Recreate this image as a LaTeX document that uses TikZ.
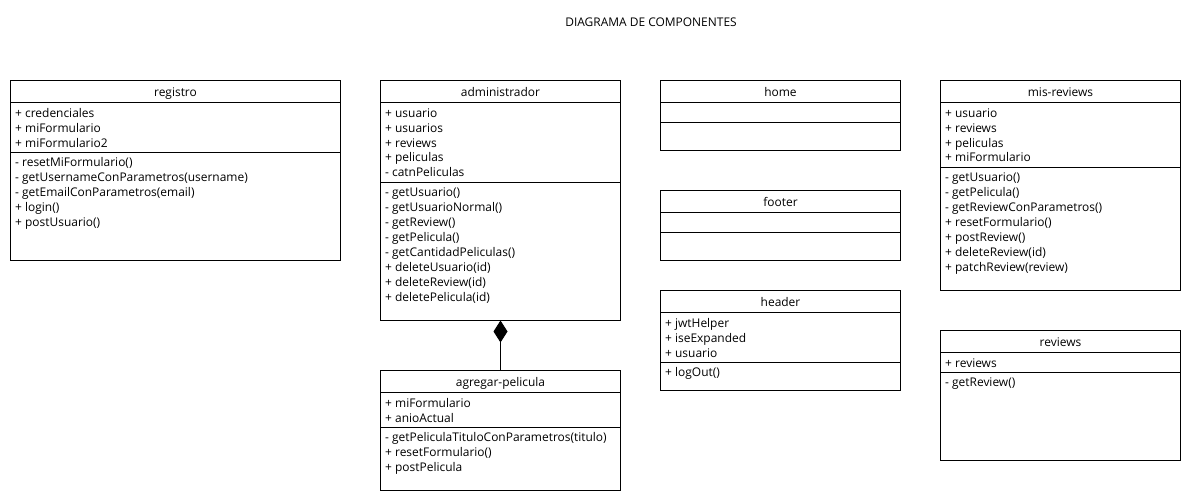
\documentclass[tikz,border=0pt]{standalone}
\usepackage{fontspec}
\setmainfont{Open Sans}
\usetikzlibrary{arrows.meta,calc}
\tikzset{
  x=1bp, y=-1bp,
  box/.style={draw, line width=1bp, anchor=north west, inner sep=0pt, outer sep=0pt},
  sepline/.style={line width=1bp},
  ttl/.style={anchor=base, inner sep=0pt, font=\fontsize{12}{15}\selectfont},
  txt/.style={anchor=north west, inner sep=0pt, align=left, font=\fontsize{12}{15}\selectfont},
  compo/.style={line width=1bp, -{Diamond[length=22bp,width=14bp]}},
}
\newcommand\umlbox[7]{%
  \node[box, minimum width=#4bp, minimum height=#5bp] (#1) at (#2.5,#3.5) {};
  \node[ttl] (#1-t) at ($(#1.north)+(0,16.5)$) {#6};
  \draw[sepline] ([yshift=-22bp]#1.north west) -- ([yshift=-22bp]#1.north east);
  \draw[sepline] ([yshift=-#7bp]#1.north west) -- ([yshift=-#7bp]#1.north east);
}
\newcommand\fl{\rule{0pt}{11pt}}
\begin{document}
\begin{tikzpicture}
\useasboundingbox (0,0) rectangle (1190,500);
\node[ttl] (title) at (651,26.5) {DIAGRAMA DE COMPONENTES};

\umlbox{reg}{10}{80}{330}{180}{registro}{72}
\node[txt] (reg-a) at ($(reg.north west)+(4.5,25.5)$) {\fl+ credenciales\\+ miFormulario\\+ miFormulario2};
\node[txt] (reg-m) at ($(reg.north west)+(4.5,75)$) {\fl- resetMiFormulario()\\- getUsernameConParametros(username)\\- getEmailConParametros(email)\\+ login()\\+ postUsuario()};

\umlbox{adm}{380}{80}{240}{240}{administrador}{102}
\node[txt] (adm-a) at ($(adm.north west)+(4.5,25.5)$) {\fl+ usuario\\+ usuarios\\+ reviews\\+ peliculas\\- catnPeliculas};
\node[txt] (adm-m) at ($(adm.north west)+(4.5,105)$) {\fl- getUsuario()\\- getUsuarioNormal()\\- getReview()\\- getPelicula()\\- getCantidadPeliculas()\\+ deleteUsuario(id)\\+ deleteReview(id)\\+ deletePelicula(id)};

\umlbox{agr}{380}{370}{240}{120}{agregar-pelicula}{57}
\node[txt] (agr-a) at ($(agr.north west)+(4.5,25.5)$) {\fl+ miFormulario\\+ anioActual};
\node[txt] (agr-m) at ($(agr.north west)+(4.5,60)$) {\fl- getPeliculaTituloConParametros(titulo)\\+ resetFormulario()\\+ postPelicula};

\umlbox{home}{660}{80}{240}{70}{home}{42}
\umlbox{foot}{660}{190}{240}{70}{footer}{42}

\umlbox{head}{660}{290}{240}{100}{header}{72}
\node[txt] (head-a) at ($(head.north west)+(4.5,25.5)$) {\fl+ jwtHelper\\+ iseExpanded\\+ usuario};
\node[txt] (head-m) at ($(head.north west)+(4.5,75)$) {\fl+ logOut()};

\umlbox{mis}{940}{80}{240}{210}{mis-reviews}{87}
\node[txt] (mis-a) at ($(mis.north west)+(4.5,25.5)$) {\fl+ usuario\\+ reviews\\+ peliculas\\+ miFormulario};
\node[txt] (mis-m) at ($(mis.north west)+(4.5,90)$) {\fl- getUsuario()\\- getPelicula()\\- getReviewConParametros()\\+ resetFormulario()\\+ postReview()\\+ deleteReview(id)\\+ patchReview(review)};

\umlbox{rev}{940}{330}{240}{130}{reviews}{42}
\node[txt] (rev-a) at ($(rev.north west)+(4.5,25.5)$) {\fl+ reviews};
\node[txt] (rev-m) at ($(rev.north west)+(4.5,45)$) {\fl- getReview()};

\draw[compo] (agr.north) -- (adm.south);
\end{tikzpicture}
\end{document}
